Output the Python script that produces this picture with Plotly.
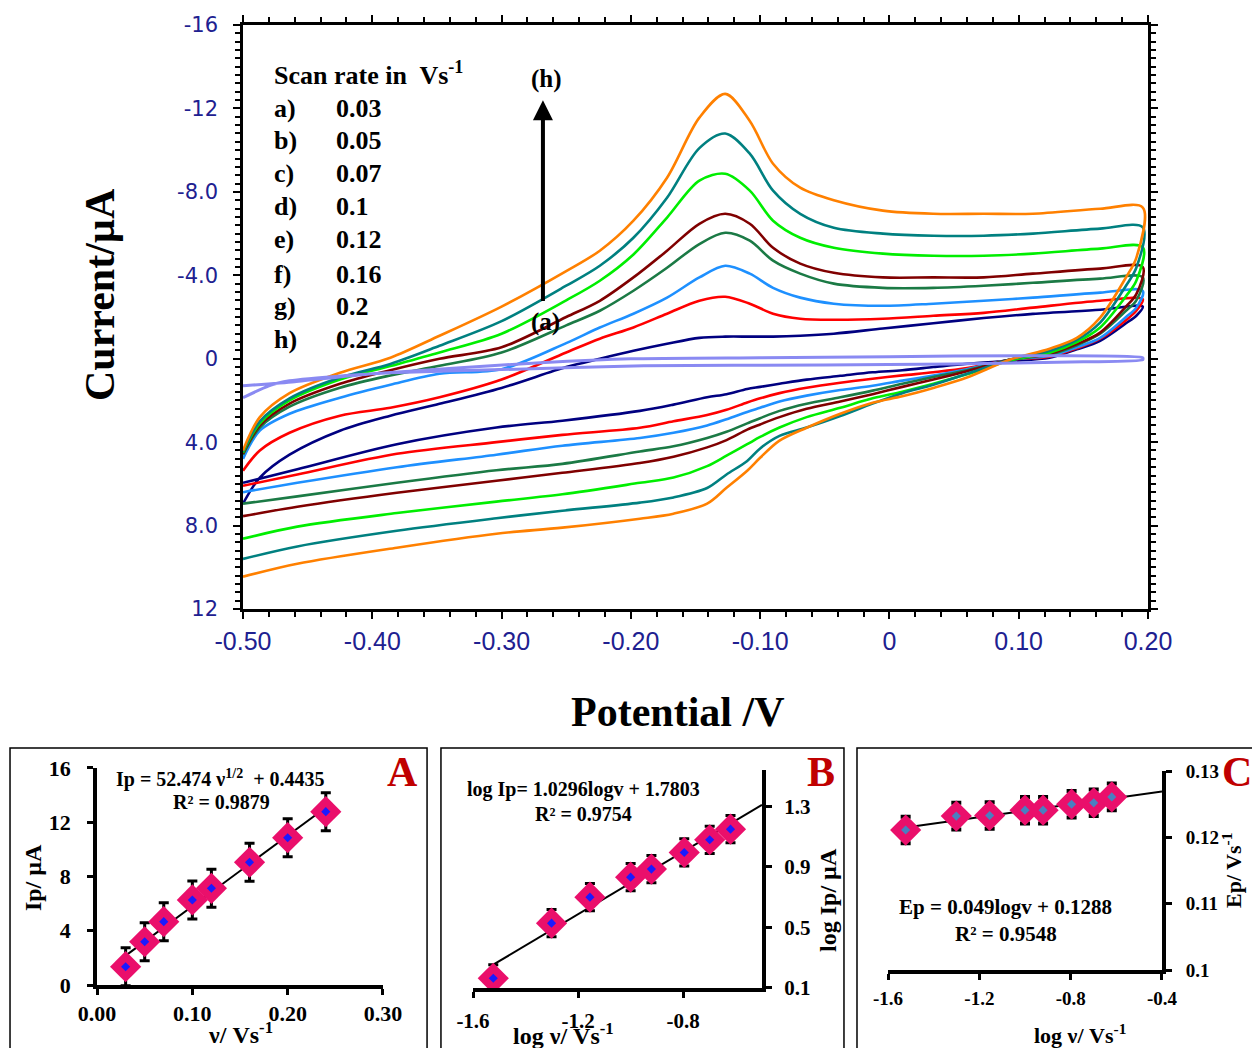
import numpy as np
import plotly.graph_objects as go

# ---------------- main cyclic voltammograms ----------------
E_FWD = [-0.500, -0.487, -0.464, -0.425, -0.386, -0.348, -0.300, -0.250, -0.224, -0.198,
         -0.172, -0.147, -0.127, -0.108, -0.090, -0.069, -0.043, -0.005, 0.034, 0.073,
         0.111, 0.163, 0.196]
E_REV = [0.191, 0.183, 0.163, 0.145, 0.124, 0.093, 0.060, 0.034, 0.010, -0.013,
         -0.038, -0.064, -0.085, -0.100, -0.110, -0.126, -0.141, -0.167, -0.193, -0.253,
         -0.304, -0.381, -0.458, -0.500]

fwd_a = [6.95, 5.70, 4.60, 3.45, 2.73, 2.16, 1.40, 0.40, 0.00, -0.38, -0.72, -1.00, -1.06, -1.06,
         -1.06, -1.10, -1.20, -1.45, -1.70, -1.95, -2.15, -2.35, -2.50]
rev_a = [-2.06, -1.70, -0.86, -0.45, -0.05, 0.10, 0.24, 0.40, 0.55, 0.65, 0.82, 1.00, 1.20, 1.35,
         1.45, 1.70, 1.85, 2.20, 2.50, 2.97, 3.30, 4.10, 5.30, 5.95]
fwd_b = [5.37, 4.40, 3.55, 2.73, 2.35, 1.85, 1.00, -0.30, -0.96, -1.50, -2.16, -2.78, -2.97, -2.64,
         -2.16, -1.92, -1.87, -1.92, -2.06, -2.20, -2.45, -2.78, -2.85]
rev_b = [-2.30, -1.85, -0.96, -0.50, -0.10, 0.05, 0.45, 0.65, 0.80, 0.96, 1.15, 1.39, 1.65, 1.90,
         2.10, 2.45, 2.70, 3.00, 3.31, 3.65, 4.00, 4.56, 5.55, 6.09]
fwd_c = [4.80, 3.45, 2.64, 1.87, 1.25, 0.72, 0.50, -0.75, -1.50, -2.16, -2.93, -3.90, -4.46, -4.08,
         -3.40, -2.93, -2.64, -2.54, -2.64, -2.78, -2.93, -3.17, -3.25]
rev_c = [-2.45, -2.00, -1.00, -0.55, -0.14, 0.05, 0.50, 0.80, 1.05, 1.30, 1.50, 1.77, 2.05, 2.35,
         2.55, 2.90, 3.20, 3.55, 3.80, 4.17, 4.60, 5.20, 5.95, 6.40]
fwd_d = [4.60, 3.30, 2.30, 1.39, 0.80, 0.34, -0.30, -1.60, -2.30, -3.26, -4.36, -5.50, -6.04, -5.66,
         -4.70, -4.08, -3.60, -3.40, -3.40, -3.50, -3.64, -3.84, -3.90]
rev_d = [-2.80, -2.30, -1.20, -0.65, -0.20, 0.05, 0.55, 0.88, 1.20, 1.53, 1.85, 2.16, 2.50, 2.85,
         3.10, 3.50, 3.80, 4.20, 4.45, 5.04, 5.35, 5.95, 6.60, 6.95]
fwd_e = [4.55, 3.20, 2.15, 1.20, 0.55, 0.00, -0.55, -2.00, -2.78, -3.90, -5.18, -6.47, -6.95, -6.47,
         -5.32, -4.56, -4.12, -3.90, -3.90, -3.90, -4.08, -4.32, -4.40]
rev_e = [-3.10, -2.50, -1.25, -0.70, -0.24, 0.05, 0.60, 1.00, 1.35, 1.70, 2.05, 2.40, 2.80, 3.15,
         3.40, 3.90, 4.25, 4.70, 5.00, 5.47, 5.85, 6.43, 7.10, 7.55]
fwd_f = [4.50, 3.10, 2.00, 1.00, 0.35, -0.30, -1.20, -2.80, -3.74, -5.00, -6.77, -8.54, -8.87, -8.06,
         -6.62, -5.80, -5.32, -5.04, -4.94, -4.94, -5.04, -5.28, -5.35]
rev_f = [-3.74, -3.00, -1.50, -0.80, -0.29, 0.08, 0.75, 1.20, 1.58, 1.90, 2.35, 2.80, 3.30, 3.75,
         4.10, 4.65, 5.15, 5.70, 5.95, 6.50, 6.85, 7.40, 8.05, 8.63]
fwd_g = [4.45, 3.00, 1.90, 0.90, 0.25, -0.62, -1.80, -3.50, -4.46, -5.80, -7.72, -10.10, -10.80, -9.83,
         -8.06, -6.95, -6.28, -6.00, -5.90, -5.90, -6.00, -6.24, -6.30]
rev_g = [-4.36, -3.50, -1.73, -0.90, -0.38, 0.05, 0.72, 1.25, 1.65, 2.15, 2.75, 3.30, 3.70, 4.30,
         4.90, 5.55, 6.20, 6.65, 6.90, 7.29, 7.65, 8.25, 9.00, 9.60]
fwd_h = [4.40, 2.80, 1.65, 0.67, -0.05, -1.10, -2.50, -4.20, -5.18, -6.62, -8.68, -11.56, -12.70, -11.40,
         -9.35, -8.20, -7.60, -7.10, -6.95, -6.95, -6.95, -7.19, -7.25]
rev_h = [-4.84, -3.90, -1.97, -1.00, -0.48, 0.05, 0.90, 1.40, 1.80, 2.11, 2.64, 3.31, 3.93, 4.75,
         5.37, 6.19, 6.95, 7.43, 7.67, 8.10, 8.39, 9.06, 9.83, 10.45]

E_BLANK_FWD = [-0.500, -0.480, -0.464, -0.420, -0.386, -0.300, -0.190, -0.050, 0.050, 0.150, 0.196]
I_BLANK_FWD = [1.87, 1.30, 1.06, 0.80, 0.67, 0.52, 0.34, 0.30, 0.25, 0.15, 0.05]
E_BLANK_REV = [0.196, 0.100, 0.000, -0.100, -0.200, -0.270, -0.400, -0.460, -0.500]
I_BLANK_REV = [-0.05, -0.14, -0.10, -0.05, 0.00, 0.19, 0.72, 1.10, 1.30]

curve_labels = ["a)", "b)", "c)", "d)", "e)", "f)", "g)", "h)"]
scan_rate_text = ["0.03", "0.05", "0.07", "0.1", "0.12", "0.16", "0.2", "0.24"]
curve_colors = ["#000080", "#ff0000", "#1e90ff", "#1b7a45", "#800000", "#00ee00", "#008080", "#ff8000"]
curves = [(fwd_a, rev_a), (fwd_b, rev_b), (fwd_c, rev_c), (fwd_d, rev_d),
          (fwd_e, rev_e), (fwd_f, rev_f), (fwd_g, rev_g), (fwd_h, rev_h)]

x_major = [-0.5, -0.4, -0.3, -0.2, -0.1, 0.0, 0.1, 0.2]
x_major_text = ["-0.50", "-0.40", "-0.30", "-0.20", "-0.10", "0", "0.10", "0.20"]
y_major = [-16, -12, -8, -4, 0, 4, 8, 12]
y_major_text = ["-16", "-12", "-8.0", "-4.0", "0", "4.0", "8.0", "12"]
x_minor_step = 0.02
y_minor_step = 0.4

# ---------------- inset data ----------------
rates = [0.03, 0.05, 0.07, 0.10, 0.12, 0.16, 0.20, 0.24]
ip_uA = [1.35, 3.19, 4.67, 6.27, 7.13, 9.05, 10.86, 12.78]
ip_err = 1.4
log_ip = [0.164, 0.528, 0.700, 0.832, 0.885, 0.995, 1.079, 1.149]
log_ip_err = 0.09
ep_V = [0.1211, 0.1232, 0.1233, 0.1241, 0.1241, 0.1250, 0.1252, 0.1261]
ep_err = 0.002

log_rate = list(np.log10(rates))

fig = go.Figure()

for (fwd, rev), col in zip(curves, curve_colors):
    fig.add_trace(go.Scatter(
        x=E_FWD + E_REV, y=fwd + rev, mode="lines",
        line=dict(color=col, width=2.6, shape="spline", smoothing=0.9),
        xaxis="x", yaxis="y", showlegend=False, hoverinfo="skip"))

fig.add_trace(go.Scatter(
    x=E_BLANK_FWD + E_BLANK_REV, y=I_BLANK_FWD + I_BLANK_REV, mode="lines",
    line=dict(color="#8a8af2", width=3, shape="spline", smoothing=0.6),
    xaxis="x", yaxis="y", showlegend=False, hoverinfo="skip"))

PINK = "#ea0f6b"
serif = "Liberation Serif, Times New Roman, serif"


def inset(xs, ys, err, ax, ay, x_end, thick, inner_col):
    k, b = np.polyfit(xs, ys, 1)
    xl = [min(xs), x_end]
    fig.add_trace(go.Scatter(x=xl, y=[k * v + b for v in xl], mode="lines",
                             line=dict(color="black", width=2), xaxis=ax, yaxis=ay,
                             showlegend=False, hoverinfo="skip"))
    fig.add_trace(go.Scatter(x=xs, y=ys, mode="markers",
                             marker=dict(symbol="diamond", size=24, color=PINK),
                             error_y=dict(type="constant", value=err, color="black",
                                          thickness=thick, width=5),
                             xaxis=ax, yaxis=ay, showlegend=False, hoverinfo="skip"))
    fig.add_trace(go.Scatter(x=xs, y=ys, mode="markers",
                             marker=dict(symbol="diamond", size=7, color=inner_col),
                             xaxis=ax, yaxis=ay, showlegend=False, hoverinfo="skip"))


inset(rates, ip_uA, ip_err, "x2", "y2", max(rates), 3, "#1a1aff")
inset(log_rate, log_ip, log_ip_err, "x3", "y3", -0.5, 3, "#1a1aff")
inset(log_rate, ep_V, ep_err, "x4", "y4", -0.4, 4, "#4a7fc0")

tick_navy = "#202090"
bold_tick = dict(family=serif, size=22, color="black", weight="bold")
bold_tick_small = dict(family=serif, size=19, color="black", weight="bold")

# minor + major tick positions for the main frame
x_all = list(np.round(np.arange(x_major[0], x_major[-1] + 1e-9, x_minor_step), 4))
y_all = list(np.round(np.arange(y_major[0], y_major[-1] + 1e-9, y_minor_step), 4))


def lab(vals, majors, texts):
    out = []
    for v in vals:
        hit = [t for m, t in zip(majors, texts) if abs(m - v) < 1e-6]
        out.append(hit[0] if hit else "")
    return out


def inset_axis(domain, rng, anchor, **kw):
    d = dict(domain=domain, range=rng, anchor=anchor, showline=True, linewidth=4,
             linecolor="black", ticks="outside", ticklen=6, tickwidth=3, tickcolor="black",
             tickfont=bold_tick, showgrid=False, zeroline=False, fixedrange=True,
             automargin=False)
    d.update(kw)
    return d


XDOM = [0.1941, 0.9169]
YDOM = [0.4189, 0.9761]

fig.update_layout(
    width=1252, height=1048, autosize=False,
    margin=dict(l=0, r=0, t=0, b=0, pad=0),
    paper_bgcolor="white", plot_bgcolor="white",
    xaxis=dict(domain=XDOM, range=[-0.5, 0.2], anchor="y",
               tickmode="array", tickvals=x_all, ticktext=lab(x_all, x_major, x_major_text),
               ticks="outside", ticklen=5, tickwidth=1.5, tickcolor="black",
               showline=True, linecolor="black", linewidth=2.5, mirror="allticks",
               tickfont=dict(family="Liberation Sans Narrow, Liberation Sans, Arial", size=25,
                             color=tick_navy),
               ticklabelstandoff=3, showgrid=False, zeroline=False, automargin=False),
    yaxis=dict(domain=YDOM, range=[12, -16], anchor="x",
               tickmode="array", tickvals=y_all, ticktext=lab(y_all, y_major, y_major_text),
               ticks="outside", ticklen=5, tickwidth=1.5, tickcolor="black",
               showline=True, linecolor="black", linewidth=2.5, mirror="allticks",
               tickfont=dict(family="DejaVu Sans, Verdana", size=21, color=tick_navy),
               ticklabelstandoff=13, showgrid=False, zeroline=False, automargin=False),
    # long major ticks on all four sides of the main frame
    xaxis5=dict(domain=XDOM, range=[-0.5, 0.2], anchor="y", overlaying="x",
                tickmode="array", tickvals=x_major, showticklabels=False,
                ticks="outside", ticklen=9, tickwidth=2, tickcolor="black",
                showline=False, mirror="allticks", showgrid=False, zeroline=False,
                automargin=False),
    yaxis5=dict(domain=YDOM, range=[12, -16], anchor="x", overlaying="y",
                tickmode="array", tickvals=y_major, showticklabels=False,
                ticks="outside", ticklen=9, tickwidth=2, tickcolor="black",
                showline=False, mirror="allticks", showgrid=False, zeroline=False,
                automargin=False),
    xaxis2=inset_axis([0.0775, 0.3059], [0, 0.3], "y2", tickmode="array",
                      tickvals=[0, 0.1, 0.2, 0.3], ticktext=["0.00", "0.10", "0.20", "0.30"],
                      ticklabelstandoff=0),
    yaxis2=inset_axis([0.0601, 0.2672], [0, 16], "x2", tickmode="array",
                      tickvals=[0, 4, 8, 12, 16], ticktext=["0", "4", "8", "12", "16"],
                      ticklabelstandoff=12),
    xaxis3=inset_axis([0.3778, 0.6086], [-1.6, -0.5], "y3", tickmode="array",
                      tickvals=[-1.6, -1.2, -0.8], ticktext=["-1.6", "-1.2", "-0.8"],
                      ticklabelstandoff=5, tickfont=dict(family=serif, size=21, color="black",
                                                         weight="bold")),
    yaxis3=inset_axis([0.0573, 0.2653], [0.1, 1.54], "x3", side="right", tickmode="array",
                      tickvals=[0.1, 0.5, 0.9, 1.3], ticktext=["0.1", "0.5", "0.9", "1.3"],
                      ticklabelstandoff=8, tickfont=dict(family=serif, size=21, color="black",
                                                         weight="bold")),
    xaxis4=inset_axis([0.7093, 0.9281], [-1.6, -0.4], "y4", tickmode="array",
                      tickvals=[-1.6, -1.2, -0.8, -0.4], ticktext=["-1.6", "-1.2", "-0.8", "-0.4"],
                      ticklabelstandoff=2, tickfont=bold_tick_small),
    yaxis4=inset_axis([0.0744, 0.2643], [0.1, 0.13], "x4", side="right", tickmode="array",
                      tickvals=[0.1, 0.11, 0.12, 0.13], ticktext=["0.1", "0.11", "0.12", "0.13"],
                      ticklabelstandoff=10, tickfont=bold_tick_small),
)

# a dummy invisible trace so the overlay axes are drawn
fig.add_trace(go.Scatter(x=[None], y=[None], xaxis="x5", yaxis="y5", showlegend=False,
                         hoverinfo="skip"))

ann = []


def txt(x, y, s, size, xanchor="center", angle=0, color="black"):
    ann.append(dict(x=x, y=y, xref="paper", yref="paper", text=s, showarrow=False,
                    xanchor=xanchor, yanchor="middle", textangle=angle,
                    font=dict(family=serif, size=size, color=color)))


# main titles
txt(0.0799, 0.7185, "<b>Current/µA</b>", 42, angle=-90)
txt(0.5415, 0.3206, "<b>Potential /V</b>", 42)
# scan rate legend text
txt(0.2173, 0.9303, "<b>Scan rate in  Vs<sup>-1</sup></b>", 26, xanchor="left")
row_y = [0.8969, 0.8655, 0.8340, 0.8034, 0.7710, 0.7385, 0.7071, 0.6756]
for lb, val, yy in zip(curve_labels, scan_rate_text, row_y):
    txt(0.2173, yy, "<b>%s</b>" % lb, 26, xanchor="left")
    txt(0.2668, yy, "<b>%s</b>" % val, 26, xanchor="left")

# arrow (a) -> (h)
ann.append(dict(x=-0.268, y=-12.4, ax=-0.268, ay=-2.7, xref="x", yref="y", axref="x", ayref="y",
                showarrow=True, arrowhead=2, arrowsize=1, arrowwidth=4, arrowcolor="black", text=""))
ann.append(dict(x=-0.265, y=-13.4, xref="x", yref="y", text="<b>(h)</b>", showarrow=False,
                font=dict(family=serif, size=25, color="black")))
ann.append(dict(x=-0.266, y=-1.75, xref="x", yref="y", text="<b>(a)</b>", showarrow=False,
                font=dict(family=serif, size=25, color="black")))

# inset A
txt(0.0264, 0.1622, "<b>Ip/ µA</b>", 24, angle=-90)
txt(0.1917, 0.0145, "<b>ν/ Vs<sup>-1</sup></b>", 24)
txt(0.1765, 0.2576, "<b>Ip = 52.474 ν<sup>1/2</sup>  + 0.4435</b>", 20)
txt(0.1773, 0.2347, "<b>R² = 0.9879</b>", 20)
txt(0.3211, 0.2634, "<b>A</b>", 42, color="#c00000")
# inset B
txt(0.6613, 0.1412, "<b>log Ip/ µA</b>", 24, angle=-90)
txt(0.4497, 0.0130, "<b>log ν/ Vs<sup>-1</sup></b>", 24)
txt(0.4657, 0.2462, "<b>log Ip= 1.0296logv + 1.7803</b>", 20)
txt(0.4657, 0.2233, "<b>R² = 0.9754</b>", 20)
txt(0.6558, 0.2634, "<b>B</b>", 42, color="#c00000")
# inset C
txt(0.9840, 0.1698, "<b>Ep/ Vs<sup>-1</sup></b>", 22, angle=-90)
txt(0.8626, 0.0135, "<b>log ν/ Vs<sup>-1</sup></b>", 22)
txt(0.8035, 0.1345, "<b>Ep = 0.049logv + 0.1288</b>", 21)
txt(0.8035, 0.1088, "<b>R² = 0.9548</b>", 21)
txt(0.9880, 0.2634, "<b>C</b>", 42, color="#c00000")

fig.update_layout(annotations=ann)

shapes = []
for x0, x1 in [(0.008, 0.3411), (0.3522, 0.6741), (0.6845, 1.02)]:
    shapes.append(dict(type="rect", xref="paper", yref="paper", x0=x0, x1=x1, y0=-0.02, y1=0.2863,
                       line=dict(color="black", width=1.5), fillcolor="rgba(0,0,0,0)"))
fig.update_layout(shapes=shapes)

fig.write_html("out.html")
